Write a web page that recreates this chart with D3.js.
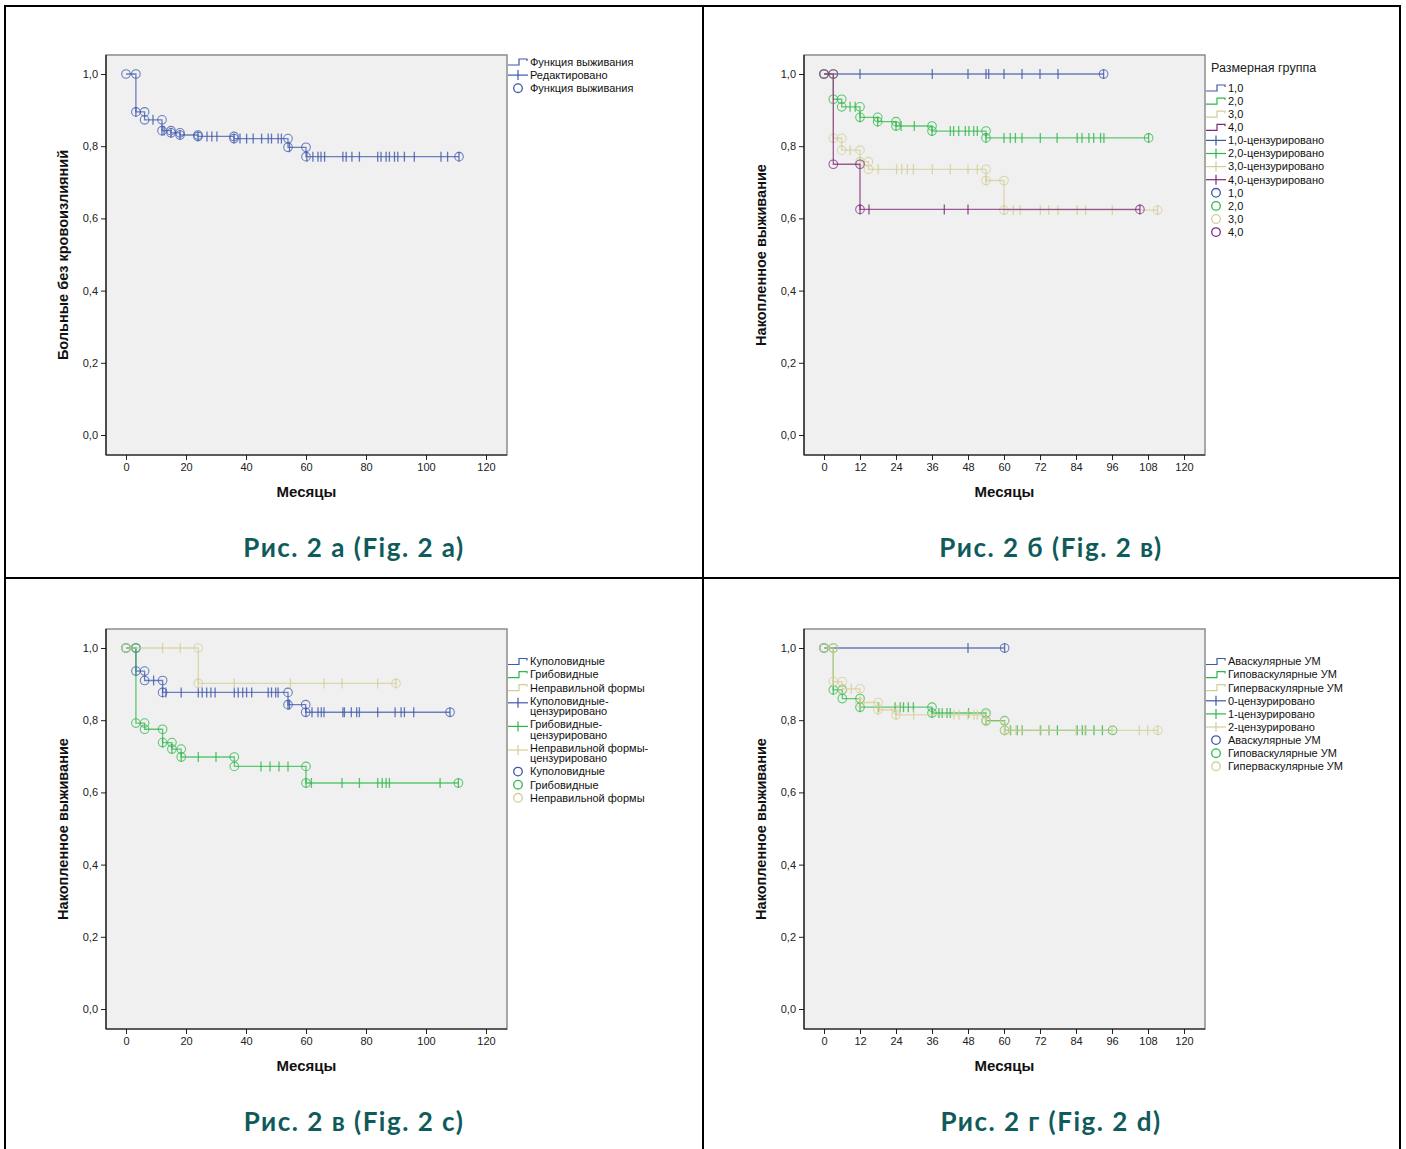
<!DOCTYPE html>
<html>
<head>
<meta charset="utf-8">
<script src="https://cdn.jsdelivr.net/npm/d3@7"></script>
<style>
body { margin: 0; background: #fff; }
svg text { font-family: "Liberation Sans", Arial, sans-serif; }
</style>
</head>
<body>
<svg id="chart" width="1406" height="1149"></svg>
<script>
// Рис. 2 а - all patients
const aTimes = [0, 3.3, 6.2, 12, 15, 18, 24, 36, 54, 60];
const aSurv = [1, 0.895, 0.873, 0.843, 0.837, 0.831, 0.827, 0.821, 0.797, 0.771];
const aEnd = 111;
const aCens = [3.3, 9, 12, 12.7, 15, 18, 24, 27, 28.6, 30.3, 36, 38, 40.2, 42.4, 45.2, 47.4, 48.5, 50.7, 51.8, 54.5,
    60.3, 62.3, 64, 65, 66.2, 72.3, 73.4, 75.3, 77.8, 83.9, 85, 86.7, 87.8, 89.5, 90.6, 92.8, 96.1, 105, 107.2, 111];

// Рис. 2 б - size groups 1,0 .. 4,0
const bGroups = ['1,0', '2,0', '3,0', '4,0'];
const b1Times = [0];
const b1Surv = [1];
const b1End = 93.2;
const b1Cens = [12, 36.1, 48, 54, 54.9, 60, 66, 72, 78, 93.2];
const b2Times = [0, 3.1, 5.9, 12, 17.9, 24, 36, 54];
const b2Surv = [1, 0.930, 0.909, 0.880, 0.868, 0.856, 0.842, 0.823];
const b2End = 108.2;
const b2Cens = [8.7, 10.4, 12, 17.9, 24, 25.7, 30.1, 36, 42.1, 43.2, 44.9, 47.1, 48.3, 49.9, 51.1, 54, 60, 62.1, 63.8,
    66, 72.1, 77.7, 84.4, 86, 88.3, 89.9, 92.2, 93.3, 108.2];
const b3Times = [0, 3.1, 5.9, 12, 14.8, 54, 60];
const b3Surv = [1, 0.822, 0.789, 0.757, 0.736, 0.705, 0.623];
const b3End = 111.2;
const b3Cens = [3.1, 8.7, 12, 18.1, 24.2, 25.9, 27.8, 29.8, 36.1, 42.1, 48, 51.1, 54, 60, 63.1, 65.4, 72.1, 74.9, 78,
    84.4, 87.2, 96.1, 111.2];
const b4Times = [0, 3.1, 12];
const b4Surv = [1, 0.750, 0.625];
const b4End = 105.3;
const b4Cens = [12, 15, 40.1, 48, 105.3];

// Рис. 2 в - shape
const cGroups = ['Куполовидные', 'Грибовидные', 'Неправильной формы'];
const c1Times = [0, 3.3, 6.2, 12.2, 54, 59.9];
const c1Surv = [1, 0.936, 0.910, 0.877, 0.843, 0.822];
const c1End = 108;
const c1Cens = [3.3, 9.2, 12.2, 13.3, 18.4, 24.1, 25.4, 26.9, 28.3, 29.7, 36.1, 37.4, 38.9, 40.2, 41.9, 47.4, 48.5,
    49.9, 50.7, 54, 54.5, 60, 62, 64, 65.1, 66, 72.3, 72.8, 75.1, 76.9, 77.8, 83.9, 89.7, 91.7, 92.8, 95.9, 108];
const c2Times = [0, 3.3, 6.2, 12.2, 15.3, 18.4, 36.1, 60];
const c2Surv = [1, 0.792, 0.775, 0.738, 0.720, 0.698, 0.672, 0.626];
const c2End = 110.8;
const c2Cens = [12.2, 15.3, 18.4, 24.1, 30, 45, 48, 51, 54, 60, 61.8, 72, 77.8, 83.9, 85.4, 86.7, 87.8, 104.7, 110.8];
const c3Times = [0, 24.1];
const c3Surv = [1, 0.902];
const c3End = 90;
const c3Cens = [12.2, 18.1, 24.1, 36.1, 54.8, 66, 72, 83.9, 90];

// Рис. 2 г - vascularisation
const dGroups = ['Аваскулярные УМ', 'Гиповаскулярные УМ', 'Гиперваскулярные УМ'];
const dCensNames = ['0-цензурировано', '1-цензурировано', '2-цензурировано'];
const d1Times = [0];
const d1Surv = [1];
const d1End = 60.2;
const d1Cens = [48, 60.2];
const d2Times = [0, 3.1, 6.1, 12, 36, 54, 60.2];
const d2Surv = [1, 0.884, 0.860, 0.836, 0.820, 0.799, 0.772];
const d2End = 96.2;
const d2Cens = [3.1, 12, 18.2, 23.7, 25.4, 26.5, 28.1, 29.8, 36, 38.3, 39.4, 41, 42.1, 48.2, 54, 60.2, 62.2, 64.4,
    66.1, 72.2, 75, 77.8, 84.4, 86.1, 87.2, 90, 92.8];
const d3Times = [0, 3.1, 6.1, 12, 18, 24, 54, 60.2];
const d3Surv = [1, 0.907, 0.887, 0.849, 0.829, 0.815, 0.797, 0.772];
const d3End = 111.3;
const d3Cens = [3.1, 9.1, 12, 18, 24, 29.9, 43.3, 45, 48, 50, 51.1, 54, 60.2, 62, 64, 66, 72, 75, 84, 87, 96, 105.1,
    107.9, 111.3];

const xTicks20 = [0, 20, 40, 60, 80, 100, 120];
const xTicks12 = [0, 12, 24, 36, 48, 60, 72, 84, 96, 108, 120];
const yTicks = [0, 0.2, 0.4, 0.6, 0.8, 1.0];

// SPSS default palette
const BLUE = '#3e58ac', GREEN = '#2eb848', BEIGE = '#d3ce97', PURPLE = '#7c287d';

const svg = d3.select('#chart');

function ser(times, surv, end, cens, color) {
    return { times, surv, end, cens, color };
}

// level of the step function at time t
function levelAt(s, t) {
    let i = d3.bisectRight(s.times, t) - 1;
    if (i < 0) i = 0;
    return s.surv[i];
}

function drawLegend(g, items, x0, y0, title) {
    let y = y0;
    if (title) {
        g.append('text').attr('x', x0 + 5).attr('y', y0 - 16).attr('font-size', 12.5).attr('fill', '#222').text(title);
    }
    items.forEach(it => {
        const sy = it.lines.length > 1 ? y + 2 : y;
        if (it.type === 'step') {
            g.append('path')
                .attr('d', `M${x0},${sy + 3}H${x0 + 11}V${sy - 3}H${x0 + 19}V${sy - 1}`)
                .attr('fill', 'none').attr('stroke', it.color).attr('stroke-width', 1.2);
        } else if (it.type === 'plus') {
            g.append('line').attr('x1', x0).attr('x2', x0 + 20).attr('y1', sy).attr('y2', sy)
                .attr('stroke', it.color).attr('stroke-width', 1.2);
            g.append('line').attr('x1', x0 + 10).attr('x2', x0 + 10).attr('y1', sy - 5).attr('y2', sy + 5)
                .attr('stroke', it.color).attr('stroke-width', 1.2);
        } else {
            g.append('circle').attr('cx', x0 + 10).attr('cy', sy).attr('r', 4.3)
                .attr('fill', 'none').attr('stroke', it.color).attr('stroke-width', 1.3);
        }
        it.lines.forEach((ln, k) => {
            g.append('text').attr('x', x0 + 22).attr('y', y + k * 10.5).attr('dy', '0.35em')
                .attr('font-size', 11).attr('fill', '#111').text(ln);
        });
        y += 13.1 + (it.lines.length - 1) * 10.5;
    });
}

function drawPanel(p) {
    const W = 401, H = 400;
    const g = svg.append('g').attr('transform', `translate(${p.left},${p.top})`);
    const x = d3.scaleLinear().domain([0, 120]).range([20, 380]);
    const y = d3.scaleLinear().domain([0, 1]).range([380, 19]);

    g.append('rect').attr('width', W).attr('height', H)
        .attr('fill', '#f0f0f0').attr('stroke', '#8c8c8c').attr('stroke-width', 1.5);

    // axes
    const xAxis = g.append('g').attr('transform', `translate(0,${H})`)
        .call(d3.axisBottom(x).tickValues(p.xTicks).tickSize(5).tickSizeOuter(0));
    const yAxis = g.append('g')
        .call(d3.axisLeft(y).tickValues(yTicks).tickSize(5).tickSizeOuter(0)
            .tickFormat(d => d3.format('.1f')(d).replace('.', ',')));
    [xAxis, yAxis].forEach(a => {
        a.select('.domain').remove();
        a.selectAll('text').attr('font-size', 11).attr('fill', '#222').style('font-family', '"Liberation Sans", Arial, sans-serif');
        a.selectAll('line').attr('stroke', '#222');
    });
    g.append('line').attr('x1', 0).attr('x2', 0).attr('y1', 0).attr('y2', H).attr('stroke', '#111').attr('stroke-width', 1.2);
    g.append('line').attr('x1', 0).attr('x2', W).attr('y1', H).attr('y2', H).attr('stroke', '#111').attr('stroke-width', 1.2);

    g.append('text').attr('transform', `translate(-38,${H / 2}) rotate(-90)`)
        .attr('text-anchor', 'middle').attr('font-size', 14.5).attr('font-weight', 'bold').attr('fill', '#111')
        .text(p.yTitle);
    g.append('text').attr('x', W / 2).attr('y', 442).attr('text-anchor', 'middle')
        .attr('font-size', 15).attr('font-weight', 'bold').attr('fill', '#111').text('Месяцы');

    const line = d3.line().x(d => x(d[0])).y(d => y(d[1]));

    p.series.forEach(s => {
        const pts = [[s.times[0], s.surv[0]]];
        for (let i = 1; i < s.times.length; i++) {
            pts.push([s.times[i], s.surv[i - 1]]);
            pts.push([s.times[i], s.surv[i]]);
        }
        pts.push([s.end, s.surv[s.surv.length - 1]]);

        const sg = g.append('g');
        sg.append('path').datum(pts).attr('d', line)
            .attr('fill', 'none').attr('stroke', s.color).attr('stroke-width', 1.3).attr('stroke-opacity', 0.75);

        // circles at both ends of every horizontal segment
        const marks = [];
        s.times.forEach((t, i) => {
            const next = i + 1 < s.times.length ? s.times[i + 1] : s.end;
            marks.push([t, s.surv[i]]);
            marks.push([next, s.surv[i]]);
        });
        sg.selectAll('circle').data(marks).enter().append('circle')
            .attr('cx', d => x(d[0])).attr('cy', d => y(d[1])).attr('r', 4.3)
            .attr('fill', 'none').attr('stroke', s.color).attr('stroke-width', 1.1).attr('stroke-opacity', 0.75);

        // censored marks
        sg.selectAll('.cens').data(s.cens).enter().append('line')
            .attr('class', 'cens')
            .attr('x1', d => x(d)).attr('x2', d => x(d))
            .attr('y1', d => y(levelAt(s, d)) - 5).attr('y2', d => y(levelAt(s, d)) + 5)
            .attr('stroke', s.color).attr('stroke-width', 1.3).attr('stroke-opacity', 0.8);
    });

    drawLegend(svg.append('g'), p.legend, p.left + W + 1, p.legendTop, p.legendTitle);

    svg.append('text').attr('x', p.capX).attr('y', p.top + 502).attr('text-anchor', 'middle')
        .attr('font-size', 26).attr('font-weight', 'bold').attr('fill', '#0f5b5b')
        .attr('letter-spacing', 1.5)
        .style('font-family', 'Lato, "Open Sans", sans-serif')
        .text(p.caption);
}

function legendSet(names, censNames, colors) {
    const items = [];
    names.forEach((n, i) => items.push({ type: 'step', color: colors[i], lines: [n] }));
    censNames.forEach((n, i) => items.push({ type: 'plus', color: colors[i], lines: [].concat(n) }));
    names.forEach((n, i) => items.push({ type: 'circle', color: colors[i], lines: [n] }));
    return items;
}

const panels = [
    {
        left: 106, top: 55, capX: 354, xTicks: xTicks20,
        yTitle: 'Больные без кровоизлияний', caption: 'Рис. 2 а (Fig. 2 а)',
        series: [ser(aTimes, aSurv, aEnd, aCens, BLUE)],
        legendTop: 62,
        legend: [
            { type: 'step', color: BLUE, lines: ['Функция выживания'] },
            { type: 'plus', color: BLUE, lines: ['Редактировано'] },
            { type: 'circle', color: BLUE, lines: ['Функция выживания'] }
        ]
    },
    {
        left: 804, top: 55, capX: 1051, xTicks: xTicks12,
        yTitle: 'Накопленное выживание', caption: 'Рис. 2 б (Fig. 2 в)',
        series: [
            ser(b1Times, b1Surv, b1End, b1Cens, BLUE),
            ser(b2Times, b2Surv, b2End, b2Cens, GREEN),
            ser(b3Times, b3Surv, b3End, b3Cens, BEIGE),
            ser(b4Times, b4Surv, b4End, b4Cens, PURPLE)
        ],
        legendTop: 88, legendTitle: 'Размерная группа',
        legend: legendSet(bGroups, bGroups.map(n => n + '-цензурировано'), [BLUE, GREEN, BEIGE, PURPLE])
    },
    {
        left: 106, top: 629, capX: 354, xTicks: xTicks20,
        yTitle: 'Накопленное выживание', caption: 'Рис. 2 в (Fig. 2 с)',
        series: [
            ser(c1Times, c1Surv, c1End, c1Cens, BLUE),
            ser(c2Times, c2Surv, c2End, c2Cens, GREEN),
            ser(c3Times, c3Surv, c3End, c3Cens, BEIGE)
        ],
        legendTop: 661.5,
        legend: legendSet(cGroups, cGroups.map(n => [n + '-', 'цензурировано']), [BLUE, GREEN, BEIGE])
    },
    {
        left: 804, top: 629, capX: 1051, xTicks: xTicks12,
        yTitle: 'Накопленное выживание', caption: 'Рис. 2 г (Fig. 2 d)',
        series: [
            ser(d1Times, d1Surv, d1End, d1Cens, BLUE),
            ser(d2Times, d2Surv, d2End, d2Cens, GREEN),
            ser(d3Times, d3Surv, d3End, d3Cens, BEIGE)
        ],
        legendTop: 661.5,
        legend: legendSet(dGroups, dCensNames, [BLUE, GREEN, BEIGE])
    }
];

panels.forEach(drawPanel);

// table borders around the four figures
const border = svg.append('g').attr('stroke', '#000').attr('stroke-width', 2);
border.append('line').attr('x1', 4).attr('x2', 1401).attr('y1', 6).attr('y2', 6);
border.append('line').attr('x1', 4).attr('x2', 1401).attr('y1', 578).attr('y2', 578);
border.append('line').attr('x1', 5).attr('x2', 5).attr('y1', 5).attr('y2', 1149);
border.append('line').attr('x1', 703).attr('x2', 703).attr('y1', 5).attr('y2', 1149);
border.append('line').attr('x1', 1400).attr('x2', 1400).attr('y1', 5).attr('y2', 1149);
</script>
</body>
</html>
